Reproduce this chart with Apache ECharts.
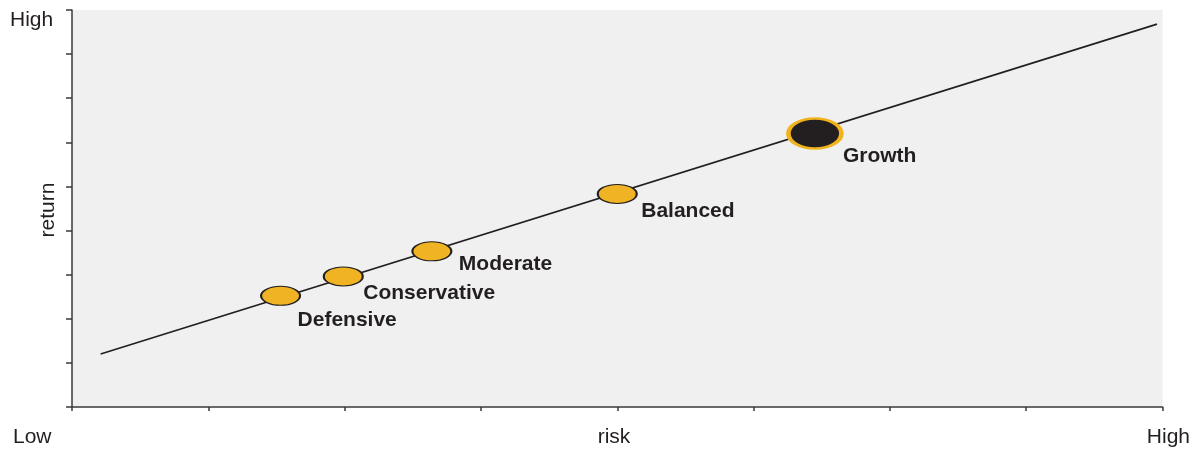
<!DOCTYPE html>
<html>
<head>
<meta charset="utf-8">
<script src="https://cdn.jsdelivr.net/npm/echarts@6/dist/echarts.min.js"></script>
<style>
  html, body { margin: 0; padding: 0; background: #ffffff; }
  #chart { width: 1195px; height: 449px; }
</style>
</head>
<body>
<div id="chart"></div>
<script>
// Risk / return profiles along a trade-off line
const profiles = ['Defensive', 'Conservative', 'Moderate', 'Balanced', 'Growth'];
const riskValues = [15.3, 19.9, 26.4, 40.0, 54.5];
const returnValues = [25.2, 29.6, 35.3, 48.3, 62.0];
const highlighted = 'Growth';

// Trade-off line end points
const trendRisk = [2.1, 79.6];
const trendReturn = [12.0, 86.8];

// Axis texts
const xTickLabels = ['Low', 'risk', 'High'];
const yTickLabels = ['High'];
const yAxisTitle = 'return';

const ink = '#231f20';
const gold = '#f0b323';
const textFont = '"Liberation Sans", Arial, Helvetica, sans-serif';

// label placement relative to each marker centre [dx, dy]
const labelShift = {
  Defensive: [17, 24],
  Conservative: [20, 17],
  Moderate: [27, 13],
  Balanced: [24, 17],
  Growth: [28, 23]
};

const pointData = profiles.map((name, i) => {
  const isHi = name === highlighted;
  return {
    name: name,
    value: [riskValues[i], returnValues[i]],
    symbolSize: isHi ? [53, 30] : [39, 19],
    itemStyle: isHi
      ? { color: ink, borderColor: '#f0b31c', borderWidth: 3.5, opacity: 1 }
      : { color: gold, borderColor: ink, borderWidth: 1.5, opacity: 1 },
    label: { offset: labelShift[name] }
  };
});

const trendData = trendRisk.map((x, i) => [x, trendReturn[i]]);

const chart = echarts.init(document.getElementById('chart'), null, { renderer: 'canvas' });

const axisBase = {
  type: 'value',
  interval: 10,
  splitLine: { show: false },
  axisLabel: { show: false },
  axisLine: { show: true, onZero: false, lineStyle: { color: '#3a3a3a', width: 1.5 } },
  axisTick: { show: true, inside: false, lineStyle: { color: '#3a3a3a', width: 1.5 } }
};

chart.setOption({
  animation: false,
  backgroundColor: '#ffffff',
  grid: {
    left: 72, right: 32.5, top: 10, bottom: 42,
    show: true, backgroundColor: '#f0f0f0', borderWidth: 0,
    outerBoundsMode: 'none'
  },
  xAxis: Object.assign({}, axisBase, {
    min: 0, max: 80,
    axisTick: Object.assign({}, axisBase.axisTick, { length: 4 })
  }),
  yAxis: Object.assign({}, axisBase, {
    min: 0, max: 90,
    axisTick: Object.assign({}, axisBase.axisTick, { length: 6 })
  }),
  series: [
    {
      type: 'line',
      data: trendData,
      symbol: 'none',
      silent: true,
      z: 2,
      lineStyle: { color: ink, width: 1.6 }
    },
    {
      type: 'scatter',
      data: pointData,
      symbol: 'circle',
      z: 3,
      itemStyle: { opacity: 1 },
      label: {
        show: true,
        position: 'inside',
        align: 'left',
        verticalAlign: 'middle',
        formatter: '{b}',
        color: ink,
        opacity: 1,
        fontFamily: textFont,
        fontWeight: 'bold',
        fontSize: 21
      },
      emphasis: { disabled: true }
    }
  ],
  graphic: [
    {
      type: 'text', x: 10, y: 20,
      style: { text: yTickLabels[0], font: '21px ' + textFont, fill: ink, align: 'left', verticalAlign: 'middle' }
    },
    {
      type: 'text', x: 48, y: 210, rotation: Math.PI / 2,
      style: { text: yAxisTitle, font: '21px ' + textFont, fill: ink, align: 'center', verticalAlign: 'middle' }
    },
    {
      type: 'text', x: 13, y: 437,
      style: { text: xTickLabels[0], font: '21px ' + textFont, fill: ink, align: 'left', verticalAlign: 'middle' }
    },
    {
      type: 'text', x: 614, y: 437,
      style: { text: xTickLabels[1], font: '21px ' + textFont, fill: ink, align: 'center', verticalAlign: 'middle' }
    },
    {
      type: 'text', x: 1190, y: 437,
      style: { text: xTickLabels[2], font: '21px ' + textFont, fill: ink, align: 'right', verticalAlign: 'middle' }
    }
  ]
});
</script>
</body>
</html>
